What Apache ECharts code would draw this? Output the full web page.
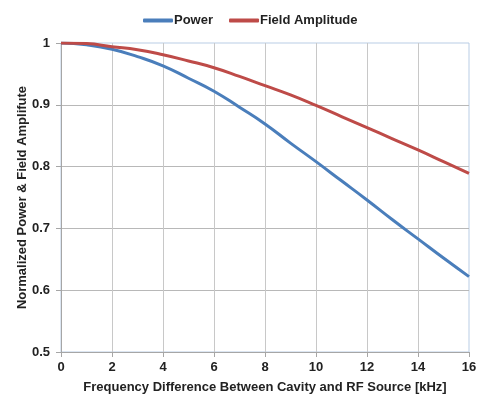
<!DOCTYPE html>
<html><head><meta charset="utf-8">
<script src="https://cdn.jsdelivr.net/npm/echarts@6/dist/echarts.min.js"></script>
<style>html,body{margin:0;padding:0;background:#fff}#c{width:481px;height:394px}</style>
</head><body><div id="c"></div>
<script>
var freq = [0,1,2,3,4,5,6,7,8,9,10,11,12,13,14,15,16];
var power = [1,0.997,0.99,0.978,0.963,0.943,0.922,0.896,0.869,0.838,0.808,0.777,0.746,0.714,0.683,0.652,0.622];
var field = [1,0.999,0.994,0.989,0.981,0.971,0.96,0.946,0.931,0.916,0.899,0.881,0.863,0.845,0.827,0.808,0.789];
function pairs(ys){return freq.map(function(x,i){return [x,ys[i]];});}
var font = 'Liberation Sans, Arial, sans-serif';
var chart = echarts.init(document.getElementById('c'));
chart.setOption({
  animation:false,
  grid:{left:61,right:12,top:43,bottom:42,show:true,borderColor:'#b9cde5',borderWidth:1,outerBoundsMode:'none',containLabel:false},
  legend:{top:9,left:138,itemWidth:30,itemHeight:4,itemGap:16,
    textStyle:{fontFamily:font,fontWeight:'bold',fontSize:13,color:'#222',padding:[0,0,0,-4]},
    data:[{name:'Power',icon:'roundRect'},{name:'Field Amplitude',icon:'roundRect'}]},
  xAxis:{type:'value',min:0,max:16,interval:2,
    name:'Frequency Difference Between Cavity and RF Source [kHz]',nameLocation:'middle',nameGap:29,
    nameTextStyle:{fontFamily:font,fontWeight:'bold',fontSize:13,color:'#222'},
    axisLine:{lineStyle:{color:'#a6a6a6'}},axisTick:{show:true,length:5,lineStyle:{color:'#a6a6a6'}},
    axisLabel:{fontFamily:font,fontWeight:'bold',fontSize:13,color:'#222',margin:9,showMaxLabel:true},
    splitLine:{show:true,showMinLine:false,showMaxLine:false,lineStyle:{color:'#c8c8c8',width:1}}},
  yAxis:{type:'value',min:0.5,max:1,interval:0.1,
    name:'Normalized Power & Field Amplifute',nameLocation:'middle',nameGap:32,nameMoveOverlap:false,
    nameTextStyle:{fontFamily:font,fontWeight:'bold',fontSize:13,color:'#222'},
    axisLine:{show:true,lineStyle:{color:'#a6a6a6'}},axisTick:{show:true,length:5,lineStyle:{color:'#a6a6a6'}},
    axisLabel:{fontFamily:font,fontWeight:'bold',fontSize:13,color:'#222',margin:11,
      formatter:function(v){return String(Math.round(v*10)/10);}},
    splitLine:{show:true,showMinLine:false,showMaxLine:false,lineStyle:{color:'#b8b8b8',width:1}}},
  series:[
    {name:'Power',type:'line',data:pairs(power),smooth:true,showSymbol:false,
      lineStyle:{color:'#4a7ebb',width:3},itemStyle:{color:'#4a7ebb'}},
    {name:'Field Amplitude',type:'line',data:pairs(field),smooth:true,showSymbol:false,
      lineStyle:{color:'#be4b48',width:3},itemStyle:{color:'#be4b48'}}
  ]
});
</script></body></html>
